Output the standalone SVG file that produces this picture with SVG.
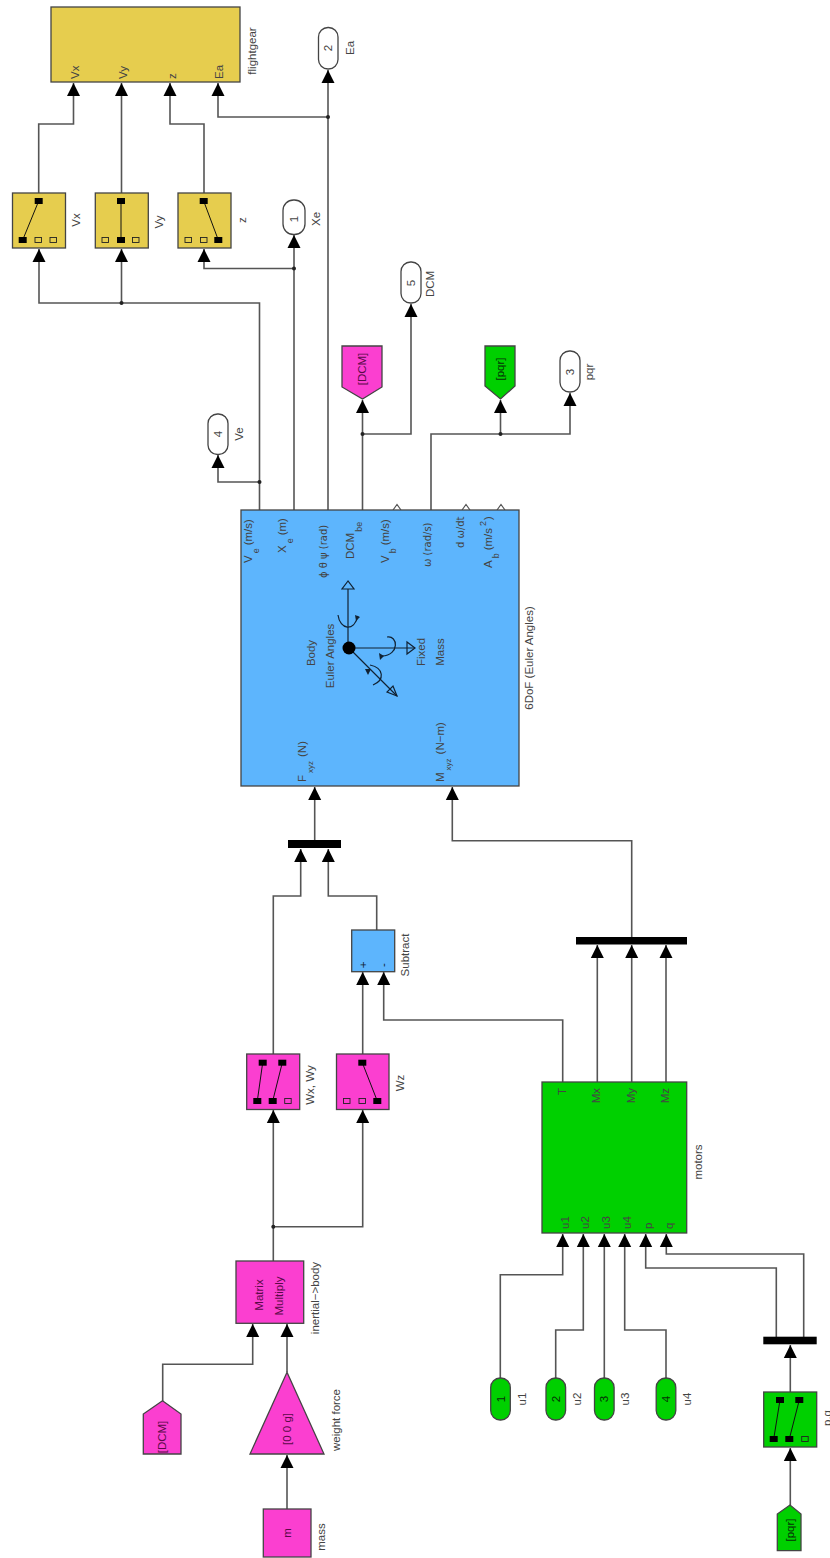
<svg xmlns="http://www.w3.org/2000/svg" width="830" height="1558" viewBox="0 0 830 1558">
<style>
text{font-family:"Liberation Sans",Arial,sans-serif;font-size:11.5px;fill:#444;dominant-baseline:central}
.m{text-anchor:middle}
.e{text-anchor:end}
.k{fill:#5a0a48}
.d{fill:#123}
.g{fill:#063006}
.b{stroke:#444;stroke-width:1.3}
.y{fill:#e6cd4e}
.p{fill:#fb3fd0}
.l{fill:#5db5fd}
.n{fill:#00d000}
.w{fill:#fff}
.wire{fill:none;stroke:#555;stroke-width:1.6}
.wire polyline{marker-end:url(#a)}
.sw{stroke:#111;stroke-width:1;fill:none}
.s{fill:#000;stroke:none}
.o{fill:none;stroke:#222;stroke-width:.9}
.bar{fill:#000}
.ic{fill:none;stroke:#123;stroke-width:1.2}
</style>
<defs>
<marker id="a" markerUnits="userSpaceOnUse" markerWidth="14" markerHeight="14" refX="13" refY="7" orient="auto"><path d="M0 .5L13 7L0 13.5Z" fill="#000"/></marker>
</defs>
<g id="connectors" class="wire">
<polyline points="38.7,193 38.7,124 73.5,124 73.5,83"/>
<polyline points="121.5,193 121.5,83"/>
<polyline points="204,193 204,124 170,124 170,83"/>
<polyline points="328,117 218,117 218,83"/>
<polyline points="328,510 328,70"/>
<polyline points="294,510 294,235"/>
<polyline points="294,268.5 204,268.5 204,249"/>
<polyline points="259.5,510 259.5,303 39,303 39,249"/>
<polyline points="121.5,303 121.5,249"/>
<polyline points="259.5,482 218,482 218,455"/>
<polyline points="362.5,510 362.5,400"/>
<polyline points="362.5,434 411,434 411,304"/>
<polyline points="431,510 431,434 570,434 570,393"/>
<polyline points="500.5,434 500.5,400"/>
<polyline points="314.7,840 314.7,787"/>
<polyline points="273.3,1054 273.3,896 300.7,896 300.7,849"/>
<polyline points="376.7,930 376.7,896 328.3,896 328.3,849"/>
<polyline points="362.7,1054 362.7,972"/>
<polyline points="562.7,1082 562.7,1020 383.7,1020 383.7,972"/>
<polyline points="631.7,937 631.7,840.7 452.3,840.7 452.3,787"/>
<polyline points="597.3,1082 597.3,945"/>
<polyline points="631.7,1082 631.7,945"/>
<polyline points="666,1082 666,945"/>
<polyline points="273.3,1261 273.3,1110"/>
<polyline points="273.3,1226.7 362.7,1226.7 362.7,1110"/>
<polyline points="162.7,1401 162.7,1364.3 252.7,1364.3 252.7,1324"/>
<polyline points="287,1372 287,1324"/>
<polyline points="287,1509 287,1455"/>
<polyline points="500.3,1378 500.3,1274.7 562.7,1274.7 562.7,1234"/>
<polyline points="555.7,1378 555.7,1330 583.3,1330 583.3,1234"/>
<polyline points="604.3,1378 604.3,1234"/>
<polyline points="666,1378 666,1330 624.7,1330 624.7,1234"/>
<polyline points="776.3,1337 776.3,1268 645.7,1268 645.7,1234"/>
<polyline points="803.7,1337 803.7,1254 666.3,1254 666.3,1234"/>
<polyline points="790.3,1392 790.3,1345"/>
<polyline points="790.3,1505 790.3,1448"/>
<g stroke="none" fill="#222">
<circle cx="328" cy="117" r="2"/><circle cx="294" cy="268.5" r="2"/><circle cx="121.5" cy="303" r="2"/><circle cx="259.5" cy="482" r="2"/><circle cx="362.5" cy="434" r="2"/><circle cx="500.5" cy="434" r="2"/><circle cx="273.3" cy="1226.7" r="2"/>
</g>
</g>
<g id="flightgear"><rect class="y b" x="51" y="7" width="189" height="75"/>
<text transform="translate(75,79) rotate(-90)">Vx</text><text transform="translate(123,79) rotate(-90)">Vy</text><text transform="translate(172,79) rotate(-90)">z</text><text transform="translate(219,79) rotate(-90)">Ea</text>
<text class="m" transform="translate(252,51) rotate(-90)">flightgear</text></g>
<g id="sw-vx"><rect class="y b" x="12.5" y="193" width="53" height="55"/><path class="sw" d="M38.7 201L22.7 240"/><rect class="s" x="34.7" y="198" width="8" height="6"/><rect class="s" x="18.7" y="237" width="8" height="6"/><rect class="o" x="35" y="237.5" width="6.5" height="5"/><rect class="o" x="50" y="237.5" width="6.5" height="5"/><text class="m" transform="translate(76,220) rotate(-90)">Vx</text></g>
<g id="sw-vy"><rect class="y b" x="95.3" y="193" width="53" height="55"/><path class="sw" d="M121 201V240"/><rect class="s" x="117" y="198" width="8" height="6"/><rect class="s" x="117" y="237" width="8" height="6"/><rect class="o" x="102" y="237.5" width="6.5" height="5"/><rect class="o" x="132.5" y="237.5" width="6.5" height="5"/><text class="m" transform="translate(159,222) rotate(-90)">Vy</text></g>
<g id="sw-z"><rect class="y b" x="178" y="193" width="53" height="55"/><path class="sw" d="M203.7 201L218.3 240"/><rect class="s" x="199.7" y="198" width="8" height="6"/><rect class="s" x="214.3" y="237" width="8" height="6"/><rect class="o" x="185" y="237.5" width="6.5" height="5"/><rect class="o" x="200.5" y="237.5" width="6.5" height="5"/><text class="m" transform="translate(242,220) rotate(-90)">z</text></g>
<g id="out1"><rect class="w b" x="283" y="200" width="22" height="34.5" rx="10.5"/><text class="m" transform="translate(294,219) rotate(-90)">1</text><text class="m" transform="translate(316,219) rotate(-90)">Xe</text></g>
<g id="out2"><rect class="w b" x="318.5" y="27.5" width="19.5" height="41.5" rx="9.5"/><text class="m" transform="translate(328,48) rotate(-90)">2</text><text class="m" transform="translate(350,48) rotate(-90)">Ea</text></g>
<g id="out3"><rect class="w b" x="560" y="351" width="20" height="41" rx="9.5"/><text class="m" transform="translate(570,372) rotate(-90)">3</text><text class="m" transform="translate(589,372) rotate(-90)">pqr</text></g>
<g id="out4"><rect class="w b" x="208" y="414" width="20" height="40.5" rx="9.5"/><text class="m" transform="translate(218,434) rotate(-90)">4</text><text class="m" transform="translate(239,434) rotate(-90)">Ve</text></g>
<g id="out5"><rect class="w b" x="401" y="262" width="20" height="41" rx="9.5"/><text class="m" transform="translate(411,283) rotate(-90)">5</text><text class="m" transform="translate(430,284) rotate(-90)">DCM</text></g>
<g id="goto-dcm"><path class="p b" d="M342 346H382V387L362.5 399L342 387Z"/><text class="m k" transform="translate(362,369) rotate(-90)">[DCM]</text></g>
<g id="goto-pqr"><path class="n b" d="M485 346H515V386L500.5 399L485 386Z"/><text class="m g" transform="translate(500,369) rotate(-90)">[pqr]</text></g>
<g id="sixdof">
<path d="M393 510L397 504.5L401 510M462 510L466 504.5L470 510M497 510L501 504.5L505 510" fill="#fff" stroke="#555" stroke-width="1.2"/>
<rect class="l b" x="241" y="510" width="278" height="276"/>
<text transform="translate(248,563) rotate(-90)">V<tspan dx="2" dy="8" font-size="9">e</tspan><tspan dx="3" dy="-8">(m/s)</tspan></text>
<text transform="translate(282,553) rotate(-90)">X<tspan dx="2" dy="8" font-size="9">e</tspan><tspan dx="3" dy="-8">(m)</tspan></text>
<text style="font-family:'DejaVu Sans',sans-serif;font-size:10px" transform="translate(323,578) rotate(-90)">ϕ θ ψ (rad)</text>
<text transform="translate(350,559) rotate(-90)">DCM<tspan dx="1" dy="9" font-size="9">be</tspan></text>
<text transform="translate(385,563) rotate(-90)">V<tspan dx="2" dy="8" font-size="9">b</tspan><tspan dx="3" dy="-8">(m/s)</tspan></text>
<text style="font-family:'DejaVu Sans',sans-serif;font-size:10px" transform="translate(427,567) rotate(-90)">ω (rad/s)</text>
<text style="font-family:'DejaVu Sans',sans-serif;font-size:10px" transform="translate(460,548) rotate(-90)">d ω/dt</text>
<text transform="translate(488,568) rotate(-90)">A<tspan dx="2" dy="8" font-size="9">b</tspan><tspan dx="3" dy="-8">(m/s</tspan><tspan dx="2" dy="-5" font-size="9">2</tspan><tspan dx="1" dy="5">)</tspan></text>
<text transform="translate(302,782) rotate(-90)">F<tspan dx="2" dy="8" font-size="8">xyz</tspan><tspan dx="4" dy="-8">(N)</tspan></text>
<text transform="translate(440,782) rotate(-90)">M<tspan dx="2" dy="8" font-size="8">xyz</tspan><tspan dx="4" dy="-8">(N−m)</tspan></text>
<text class="m" transform="translate(311,653) rotate(-90)">Body</text>
<text class="m" transform="translate(330,656) rotate(-90)">Euler Angles</text>
<text class="m" transform="translate(421,652) rotate(-90)">Fixed</text>
<text class="m" transform="translate(440,652) rotate(-90)">Mass</text>
<g class="ic">
<path d="M348 648V589M415 648H349M349 648L397 696"/>
<path d="M348 581L342 589H354Z M415 648L407 642V654Z M397 696L387 692L393 686Z"/>
<path d="M338 615C340 630 354 632 358 616M387 637C398 635 400 655 382 656M370 665C384 668 385 680 373 685"/>
</g>
<path d="M355 615L360 617L356 621ZM379 653L384 656L380 660ZM365 669L371 669L368 675Z" fill="#123"/>
<circle cx="349" cy="648" r="6.5" fill="#000"/>
<text class="m" transform="translate(529,658) rotate(-90)">6DoF (Euler Angles)</text></g>
<g id="mux-f"><rect class="bar" x="288" y="840" width="53" height="8"/></g>
<g id="subtract"><rect class="l b" x="351.7" y="930" width="43" height="41.7"/><text class="m d" transform="translate(362.5,965) rotate(-90)">+</text><text class="m d" transform="translate(383,965) rotate(-90)">-</text><text class="m" transform="translate(405,955) rotate(-90)">Subtract</text></g>
<g id="mux-m"><rect class="bar" x="576" y="937" width="111" height="7.5"/></g>
<g id="sw-wxy"><rect class="p b" x="246.7" y="1054" width="53" height="55.5"/><path class="sw" d="M262.7 1062.7L257.3 1101M282.3 1062.7L272.7 1101"/><rect class="s" x="258.7" y="1059.7" width="8" height="6"/><rect class="s" x="278.3" y="1059.7" width="8" height="6"/><rect class="s" x="253.3" y="1098" width="8" height="6"/><rect class="s" x="268.7" y="1098" width="8" height="6"/><rect class="o" x="284.7" y="1098.5" width="6.5" height="5"/><text class="m" transform="translate(310,1085) rotate(-90)">Wx, Wy</text></g>
<g id="sw-wz"><rect class="p b" x="336.5" y="1054" width="52.5" height="55.5"/><path class="sw" d="M362.3 1062.7L377.3 1101"/><rect class="s" x="358.3" y="1059.7" width="8" height="6"/><rect class="s" x="373.3" y="1098" width="8" height="6"/><rect class="o" x="343.5" y="1098.5" width="6.5" height="5"/><rect class="o" x="359" y="1098.5" width="6.5" height="5"/><text class="m" transform="translate(400,1083) rotate(-90)">Wz</text></g>
<g id="motors"><rect class="n b" x="542" y="1082" width="144.7" height="151"/>
<text class="e" transform="translate(561.7,1088) rotate(-90)">T</text><text class="e" transform="translate(596,1088) rotate(-90)">Mx</text><text class="e" transform="translate(631,1088) rotate(-90)">My</text><text class="e" transform="translate(665,1088) rotate(-90)">Mz</text>
<text transform="translate(565,1229) rotate(-90)">u1</text><text transform="translate(585,1229) rotate(-90)">u2</text><text transform="translate(606,1229) rotate(-90)">u3</text><text transform="translate(627,1229) rotate(-90)">u4</text><text transform="translate(648,1229) rotate(-90)">p</text><text transform="translate(669,1229) rotate(-90)">q</text>
<text class="m" transform="translate(698,1162) rotate(-90)">motors</text></g>
<g id="matrix"><rect class="p b" x="236" y="1261" width="67.7" height="62.3"/><text class="m k" transform="translate(259.3,1295) rotate(-90)">Matrix</text><text class="m k" transform="translate(279.3,1296) rotate(-90)">Multiply</text><text class="m" transform="translate(315,1298) rotate(-90)">inertial−&gt;body</text></g>
<g id="from-dcm"><path class="p b" d="M143.3 1454V1414L162.5 1400.7L181 1414V1454Z"/><text class="m k" transform="translate(162,1437) rotate(-90)">[DCM]</text></g>
<g id="gain"><path class="p b" d="M287 1372.3L324 1454H250Z"/><text class="m k" transform="translate(287,1429) rotate(-90)">[0 0 g]</text><text class="m" transform="translate(336,1420) rotate(-90)">weight force</text></g>
<g id="mass"><rect class="p b" x="263.3" y="1509" width="47.7" height="48"/><text class="m k" transform="translate(287,1533) rotate(-90)">m</text><text class="m" transform="translate(321,1537) rotate(-90)">mass</text></g>
<g id="in1"><rect class="n b" x="490.7" y="1378" width="19.6" height="42" rx="9.5"/><text class="m g" transform="translate(500.5,1399) rotate(-90)">1</text><text class="m" transform="translate(522,1399) rotate(-90)">u1</text></g>
<g id="in2"><rect class="n b" x="546" y="1378" width="19.6" height="42" rx="9.5"/><text class="m g" transform="translate(555.7,1399) rotate(-90)">2</text><text class="m" transform="translate(577,1399) rotate(-90)">u2</text></g>
<g id="in3"><rect class="n b" x="594.5" y="1378" width="19.6" height="42" rx="9.5"/><text class="m g" transform="translate(604.3,1399) rotate(-90)">3</text><text class="m" transform="translate(625,1399) rotate(-90)">u3</text></g>
<g id="in4"><rect class="n b" x="656.2" y="1378" width="19.6" height="42" rx="9.5"/><text class="m g" transform="translate(666,1399) rotate(-90)">4</text><text class="m" transform="translate(687,1399) rotate(-90)">u4</text></g>
<g id="mux-pq"><rect class="bar" x="763.3" y="1336.7" width="53.4" height="7.6"/></g>
<g id="sw-pq"><rect class="n b" x="763.7" y="1392" width="53" height="55"/><path class="sw" d="M780 1400L773.7 1439M799.3 1400L789.3 1439"/><rect class="s" x="776" y="1397" width="8" height="6"/><rect class="s" x="795.3" y="1397" width="8" height="6"/><rect class="s" x="769.7" y="1436" width="8" height="6"/><rect class="s" x="785.3" y="1436" width="8" height="6"/><rect class="o" x="801.7" y="1436.5" width="6.5" height="5"/><text class="m" transform="translate(827,1418) rotate(-90)">p,q</text></g>
<g id="from-pqr"><path class="n b" d="M777.3 1550.7V1514L790 1505L801 1514V1550.7Z"/><text class="m g" transform="translate(790,1530) rotate(-90)">[pqr]</text></g>
</svg>
